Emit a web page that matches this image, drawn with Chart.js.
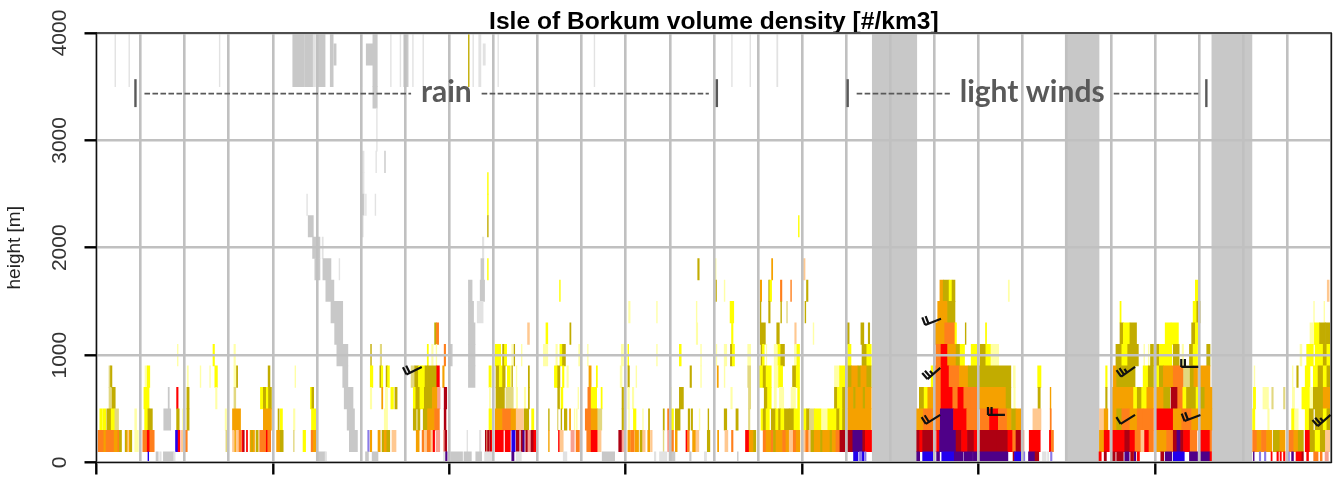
<!DOCTYPE html>
<html>
<head>
<meta charset="utf-8">
<title>Isle of Borkum volume density</title>
<script src="https://cdn.jsdelivr.net/npm/chart.js@4"></script>
<style>html,body{margin:0;padding:0;background:#fff}canvas{display:block}</style>
</head>
<body>
<canvas id="c" width="1344" height="478"></canvas>
<script>
// x = hours since start of the record, y = height [m]
// cells: [startHour, endHour, densityClass]
const titleText = 'Isle of Borkum volume density [#/km3]';
const yAxisLabel = 'height [m]';
const heightTicks = [0, 1000, 2000, 3000, 4000];
const noDataHours = [[105.55, 111.6], [131.8, 136.4], [151.75, 157.2]];

const band0 = [[7.0,7.1,9],[8.1,8.4,0],[8.6,8.8,11],[9.1,10.5,0],[10.5,10.7,11],[29.9,31.1,0],[31.1,31.3,11],[36.6,37,0],[37.5,38.3,0],[47.2,47.5,11],[47.5,47.7,8],[48.2,49.8,0],[50,51,0],[51.6,52.4,0],[52.8,53.9,11],[56.5,56.8,8],[57.1,57.8,11],[63.5,64,11],[68.8,70.5,0],[75.9,76.1,11],[76.6,77.6,11],[77.9,78.7,0],[80.7,80.9,0],[82.7,83,11],[87.2,87.3,0],
  [103,103.6,9],[103.8,104.1,14],[104.2,104.4,9],[104.5,104.7,14],[111.6,112,8],[112.4,113.8,9],[114.3,114.7,8],[115,116.7,9],[116.7,117.85,8],[118,119.2,8],[119.3,120.1,8],[120.2,124,8],[124.7,124.9,7],[124.9,125.8,9],[126,126.3,14],[126.8,127.7,8],[127.7,128.2,7],[128.7,129.2,11],[129.4,129.55,11],[129.8,130,14],
  [136.4,136.7,6],[137.1,137.4,7],[138.2,138.6,7],[138.8,139.7,7],[139.9,140.5,8],[140.7,141.1,7],[141.2,141.4,8],[141.6,141.9,6],[144.8,145.2,7],[145.4,146.3,8],[146.5,148,9],[148.7,149.8,8],[150.2,151.5,8],[151.5,151.7,6],
  [157.4,157.5,8],[158.2,158.4,14],[158.9,159.1,14],[159.8,159.95,6],[160.6,160.8,6],[161.03,161.2,6],[161.5,161.7,6],[162.1,162.3,14],[162.6,162.85,8],[163.2,164,6],[164,164.2,7],[164.65,164.9,6],[165.6,166.2,5],[166.5,166.75,5],[167.15,167.6,10]];

const band100 = [[0.2,1,5],[1,1.3,4],[1.3,1.8,5],[1.8,2.4,5],[2.4,2.9,4],[2.9,3.1,5],[3.1,3.4,3],[3.9,4.1,3],[4.1,4.2,4],[4.4,4.6,4],[4.6,4.8,3],[5.2,5.7,1],[6.3,6.9,5],[6.9,7.25,6],[7.25,7.85,5],[10.75,11.1,9],[11.1,11.35,6],[11.55,11.8,13],[12.05,12.35,5],[17.6,17.8,12],[18.5,18.7,13],[18.8,19,4],[19,19.4,13],[19.4,19.7,5],[19.8,20,6],[20,20.1,7],[20.4,20.55,6],[20.9,21.1,4],[21.1,21.3,3],[21.3,21.5,4],[21.7,22,3],[22.2,22.7,5],[22.7,23.1,5],[23.1,23.3,6],[23.3,23.7,5],[24.5,25,4],[25,25.4,3],[26.8,26.9,12],[28.1,28.45,2],[29.2,29.5,5],[29.5,29.9,4],
  [34.4,35.5,0],[36.9,37.1,14],[37.25,37.45,4],[38.3,38.6,4],[38.85,39.15,3],[39.15,39.5,4],[39.5,39.9,3],[40.2,40.75,13],[43.5,43.9,4],[44.3,44.6,5],[44.6,45,13],[45,45.5,5],[45.5,45.8,13],[45.8,46,6],[46.2,46.7,10],[47.2,47.4,10],[47.4,47.65,7],[50.4,50.5,11],[52.1,52.3,11],
  [52.9,53.1,7],[53.1,53.2,13],[53.2,53.4,7],[53.5,53.7,7],[53.7,53.9,6],[54.25,55.35,6],[55.6,56.3,6],[56.5,56.95,9],[57.1,57.5,7],[57.75,58,7],[58,58.2,8],[58.4,58.7,7],[58.7,59,10],[59.1,59.5,7],[59.5,59.8,6],[61.5,61.6,4],[62.85,63,6],[63.05,63.5,13],[64.55,65,10],[65.25,65.7,5],[66.7,67.3,5],[67.3,68.2,6],[68.2,68.65,13],[71.05,71.5,7],[71.5,71.7,10],[72.3,72.65,4],[72.7,73.15,5],[73.25,73.75,4],[73.95,74.3,3],[74.3,74.65,13],[75,75.3,4],[75.4,75.6,13],[77.1,77.2,12],[77.7,77.95,10],[78.1,78.5,5],[78.75,79,4],[80.2,80.4,6],[80.4,80.65,5],[81.1,81.55,4],[81.55,81.95,13],[83.1,83.45,3],[84.5,84.65,4],[85.5,85.9,13],[86.4,86.6,5],[88.3,88.8,6],[88.8,89.4,4],[89.4,89.7,3],
  [90.7,91.1,5],[91.1,91.8,4],[91.8,92.1,5],[92.1,92.45,3],[92.45,93.35,4],[93.35,93.8,5],[93.8,94.25,4],[94.25,94.8,13],[94.8,95.2,5],[95.2,95.7,4],[96.2,96.5,13],[96.5,96.9,5],[96.9,97.2,13],[97.2,97.65,3],[97.65,98.5,4],[98.5,98.8,3],[98.8,99.8,4],[99.8,100.1,3],[100.1,100.6,4],[100.6,101.15,5],[101.15,101.9,7],[102.2,102.9,7],[102.9,104.25,8],[104.25,104.6,7],[104.6,105.45,6],
  [111.6,112,7],[112,112.4,6],[112.4,113.8,7],[113.8,114.1,6],[114.3,114.7,6],[114.7,116.95,8],[116.95,117.7,7],[117.7,118.5,6],[118.5,119.4,7],[119.4,120.1,6],[120.2,122.5,7],[122.5,124,7],[124,124.65,6],[124.65,125.1,5],[125.1,125.8,7],[125.8,126.2,10],[126.9,127.8,6],[127.8,128.4,6],[129.65,129.9,6],[129.9,130.2,5],
  [136.45,137.1,4],[137.1,137.8,6],[138.15,139.9,6],[139.9,140.6,7],[140.6,141.3,6],[141.3,142.1,5],[142.1,142.6,13],[142.6,143.2,6],[143.2,143.8,5],[144.1,145.6,4],[145.6,146.5,5],[146.5,147,7],[147,147.5,8],[147.5,147.9,7],[147.9,148.8,6],[148.8,149.7,5],[149.9,151.5,6],[151.5,151.7,5],
  [157.3,157.9,5],[157.9,158.5,4],[158.5,159.2,5],[159.2,159.9,4],[160.1,161,3],[161,161.7,4],[162.2,162.9,5],[162.9,163.5,4],[163.5,164.2,3],[164.45,165.1,6],[165.1,165.8,3],[165.8,166.5,2],[166.5,167.2,3],[167.2,167.8,13]];

const band300 = [[0.45,0.8,2],[0.9,1.25,2],[1.4,2,3],[2,2.5,2],[2.5,3,12],[5.2,5.45,1],[6.55,7,2],[7,7.25,3],[7.25,7.6,3],[9.15,10.1,0],[10.9,11.25,3],[11.7,12,1],[12.3,12.6,3],[17.5,17.7,1],[18.5,19.6,4],[22.7,23.8,4],[24.7,24.85,3],[25,25.3,2],[26.8,27,1],[29.25,29.85,2],[34.1,35.1,0],[39.15,39.6,1],[43.1,43.5,3],[43.7,44,3],[44.45,45.05,3],[45.05,46,4],[46,46.65,5],[47.3,47.55,7],
  [53.4,53.75,2],[54.25,55.25,4],[55.25,56.4,5],[56.4,57.1,4],[57.1,58.1,13],[58.2,58.8,3],[59.2,59.5,2],[61.5,61.6,3],[62.7,62.8,12],[63.2,63.3,3],[63.65,64,3],[64.35,64.5,4],[65,65.1,1],[65.3,65.4,1],[66.5,67.3,5],[67.3,68.2,4],[68.2,68.75,12],[71.5,71.7,3],[72.4,72.5,1],[73.05,73.4,2],[74.3,74.4,1],[75.1,75.25,3],[77.1,77.25,3],[77.7,78,5],[78.2,78.5,2],[78.75,79.4,3],[80.5,80.7,3],[80.9,81.1,3],[82,82.1,1],[83.2,83.3,3],[85.4,85.75,3],[87,87.3,3],[88.7,88.9,12],
  [90.4,90.7,2],[90.7,91.1,3],[91.1,91.55,2],[91.8,92.4,3],[92.4,92.8,2],[92.8,93.1,3],[93.1,93.6,2],[93.6,94.25,3],[94.25,94.9,3],[94.9,95.65,2],[96.2,96.6,2],[96.6,97,3],[97,97.65,12],[97.65,98.6,2],[98.7,99.5,1],[99.5,100.25,2],[100.25,100.7,2],[100.7,101.1,3],[101.1,101.5,2],[101.5,102,3],[102.2,103.3,4],[103.3,104.3,4],[104.3,105.4,4],
  [111.6,112.5,4],[112.5,113.8,5],[113.8,114.1,4],[114.1,114.8,5],[114.8,116.6,8],[116.6,118.4,6],[118.4,120,5],[120.2,121.5,5],[121.5,122.7,6],[122.7,123.9,5],[123.9,124.5,4],[124.5,125.1,3],[125.1,125.8,4],[127.4,128.5,13],[129.75,129.9,5],
  [136.45,137.1,13],[137.1,137.6,4],[138.15,138.8,4],[138.8,139.5,3],[139.5,140.6,5],[140.6,141.6,4],[141.6,142.4,5],[142.4,143.8,5],[144.1,146.5,6],[146.5,147.65,4],[147.65,149,5],[149,150.15,4],[150.15,151.75,4],
  [157.3,157.6,2],[159.35,159.55,1],[162.6,162.95,2],[163.1,163.5,1],[164.45,165,2],[165,165.55,3],[165.8,166.9,3],[166.9,167.4,2],[167.4,167.8,3]];

const band500 = [[1.7,2,12],[2.1,2.55,3],[6.45,7.15,2],[9.75,9.9,0],[10.9,11.1,6],[12.3,12.6,3],[16.2,16.4,1],[18.7,18.95,12],[22.3,22.7,2],[22.7,23.1,3],[23.1,23.4,2],[23.4,23.8,3],[29.1,29.3,2],[29.3,29.55,3],[33.7,34.9,0],[37.25,37.45,1],[38.8,38.95,4],[39.3,39.6,1],[40.05,40.4,2],[40.6,40.9,3],[43.1,43.45,2],[43.45,44,3],[44,44.6,2],[44.6,45.7,3],[45.7,46.4,4],[46.4,46.75,10],[47.3,47.65,7],
  [53.45,53.6,1],[54.35,55.5,3],[55.7,56.7,12],[57.1,57.3,1],[58.2,58.4,1],[58.75,58.9,3],[62.75,63,3],[63.2,63.45,2],[65.5,65.6,1],[66.85,67.3,5],[67.3,68.05,2],[68.65,68.8,2],[71.5,71.7,3],[72.3,72.5,1],[72.9,73.1,1],[78.1,78.2,1],[79.3,79.85,3],[86.3,86.5,1],[88.7,89,12],
  [90.85,91.3,3],[91.3,91.8,2],[92.2,92.5,1],[92.9,93.5,1],[94.5,95.1,1],[95.4,95.65,2],[100.4,100.8,3],[100.8,101.1,2],[101.1,101.5,2],[101.5,101.9,3],[102.2,103,4],[103,103.3,3],[103.3,104.3,4],[104.3,104.6,3],[104.6,105.4,4],
  [111.95,112.6,3],[112.6,113.1,2],[113.1,113.8,4],[114.1,114.9,5],[114.9,116.5,6],[116.5,117.2,5],[117.2,118,6],[118,119,5],[119,120.1,5],[120.1,122,4],[122,123.75,4],[123.75,124.4,3],[124.8,125,1],[128.1,128.4,3],[129.75,129.85,4],
  [137.3,137.5,3],[138.15,141.1,4],[141.1,141.6,2],[141.6,142.2,3],[142.2,142.9,2],[142.9,143.8,4],[144.1,145.2,4],[145.2,146.05,3],[146.2,147.1,7],[147.1,147.8,5],[147.8,148.3,2],[148.3,148.8,3],[148.8,149.6,3],[149.6,150.1,2],[150.1,150.8,3],[150.8,151.75,4],
  [157.4,157.7,2],[158.7,159.45,1],[159.9,160.1,12],[161.5,161.7,12],[162.7,163,1],[164,165.1,2],[165.1,165.55,1],[165.55,166.9,3],[166.9,167.8,4]];

const band700 = [[1.7,1.9,12],[1.9,2.1,3],[6.6,6.9,1],[6.9,7.25,2],[12.35,12.5,1],[14.1,14.2,1],[15.4,15.5,1],[16.1,16.45,2],[18.7,18.95,1],[19.05,19.2,3],[23.35,23.6,3],[27,27.1,1],[33.5,34.2,0],[37.25,37.6,2],[38.55,38.75,3],[38.75,38.95,2],[39.4,39.6,3],[39.6,39.85,2],[42.8,43.3,12],[43.3,43.8,3],[43.8,44.3,2],[44.3,44.7,2],[44.7,45.05,3],[45.05,46.3,3],[46.3,46.65,6],[47.1,47.3,4],[50.6,51.5,0],
  [53.4,53.7,2],[54.35,54.8,3],[54.8,55.25,2],[55.25,55.6,3],[55.9,56.3,2],[56.5,56.6,3],[57.1,57.2,1],[58.75,58.9,3],[62.3,62.75,2],[62.75,63.05,3],[63.4,63.6,2],[64,64.2,1],[67,67.3,4],[68,68.15,2],[71.25,71.5,1],[72.3,72.5,3],[73.4,73.5,1],[80.75,80.95,3],[82.2,82.3,1],[84.45,84.6,4],[85.4,85.5,1],[88.6,89,12],
  [90.2,90.7,2],[90.7,91.1,3],[91.1,91.8,2],[92.2,92.8,1],[92.8,93.35,2],[94.7,95.2,3],[95.2,95.65,2],[100.4,101.1,1],[101.1,101.9,2],[102.2,102.75,3],[102.75,103.6,4],[103.6,104,3],[104,104.8,4],[104.8,105.4,3],
  [113.55,113.8,2],[114.1,114.9,5],[114.9,116,6],[116,117.4,5],[117.4,118.6,4],[118.6,119.9,3],[120.1,124.4,3],[124.75,125,1],[128.05,128.5,2],[137.3,137.5,2],
  [138.35,138.8,4],[138.8,141.3,3],[142.4,143.1,2],[143.1,143.8,3],[144.1,144.6,2],[144.6,145.15,3],[145.15,146.5,4],[146.5,147.9,5],[147.9,148.8,12],[148.8,149.3,3],[149.3,149.8,4],[150.15,151.5,4],
  [157.5,157.6,1],[162.7,162.8,1],[163.3,163.5,3],[164.45,165.1,2],[165.55,166.2,2],[166.2,166.9,3],[166.9,167.4,2],[167.4,167.8,3]];

const band900 = [[11,11.1,1],[15.85,16.05,2],[18.7,18.9,1],[32.7,34.2,0],[37.3,37.4,3],[38.6,38.8,12],[45,45.15,2],[45.6,45.8,1],[46.2,46.3,1],[47.3,47.5,5],[47.9,48.4,0],[50.6,51.5,0],
  [54.25,55,2],[55.25,55.5,3],[55.5,55.8,2],[56.5,56.6,1],[56.8,56.9,3],[57.8,57.9,1],[60.8,61.4,1],[62.5,62.7,1],[63.05,63.4,2],[63.4,63.8,3],[65.6,65.8,1],[66.8,66.9,1],[71.4,71.7,1],[72.3,72.4,2],[76.2,76.3,1],[79.3,79.55,2],[82.2,82.3,1],[84.3,84.4,1],[85.4,85.75,1],[86.25,86.5,3],[86.5,86.8,2],[88.6,89,1],
  [90.4,90.6,3],[90.6,90.85,2],[91.1,91.2,1],[92.2,92.6,1],[92.7,93.1,2],[93.1,93.6,3],[94.95,95.3,1],[95.3,95.65,2],[102.2,102.65,2],[104.15,104.8,3],[104.8,105.4,2],
  [114.2,114.9,5],[114.9,115.8,6],[115.8,116.95,4],[116.95,117.5,3],[117.5,118.1,2],[119,119.9,2],[120.2,121,3],[121,121.7,2],[121.7,122.75,1],
  [138.7,139.5,3],[139.5,140.3,2],[140.3,141.75,3],[142.5,142.6,1],[143.1,143.2,1],[143.4,143.8,3],[144.1,144.6,3],[144.6,145.15,2],[145.15,146.3,2],[146.5,147.3,3],[147.7,147.9,1],[148.7,149.2,3],[149.2,149.8,2],[151.05,151.5,3],
  [163.75,164,1],[164.65,165.55,2],[165.8,166.9,2],[166.9,167.4,3],[167.4,167.8,2]];

const band1100 = [[32.4,33.5,0],[46,46.25,3],[46.25,46.55,5],[50.6,51.5,0],[58.65,58.9,13],[61.15,61.4,2],[64.4,64.55,3],[81.6,81.8,1],[86.4,86.6,2],[90.3,91,3],[92.55,92.9,3],[95,95.2,13],[97.5,97.6,1],[102.15,102.4,3],[104,104.4,3],[105,105.2,3],
  [114.1,115.4,4],[115.4,116.8,5],[116.8,117,2],[118.2,118.3,3],[120.95,121.1,2],[139.25,139.7,3],[139.7,140.6,2],[140.6,141.5,3],[145.4,146.2,2],[146.2,147.2,2],[149,149.5,3],[149.5,149.9,2],[165.1,165.7,1],[165.7,166.4,2],[166.4,167.2,3],[167.2,167.9,3]];

const band1300 = [[31.9,33.5,0],[50.6,51.3,0],[51.8,52.6,11],[72.4,72.6,1],[76.2,76.3,1],[81.6,81.7,1],[86.2,86.7,2],[90.3,90.4,3],[91.45,91.65,3],[93.1,93.2,3],[93.9,94,12],[96.4,96.5,3],[114.45,115.8,4],[115.8,116.8,3],[139.25,139.4,2],[149.2,149.7,2],[149.7,150.15,3],[165.6,165.7,1],[167,167.1,1]];

const band1500 = [[31.2,32.3,0],[50.6,51.1,0],[52.2,52.8,0],[63,63.1,2],[84.25,84.35,3],[85.4,85.5,1],[90.3,90.5,4],[91.45,91.6,3],[91.6,91.85,2],[93.05,93.25,5],[94.45,94.55,5],[96.6,96.8,3],[114.75,115.2,4],[115.2,116,3],[116,116.4,2],[116.4,116.8,3],[124.05,124.2,1],[149.5,150,2],[167.45,167.7,13]];

const band1700 = [[29.7,30.4,0],[30.8,31.9,0],[33,33.1,11],[52.3,52.7,0],[53.2,53.3,2],[81.8,82,3],[84.2,84.3,1],[91.85,92,4],[96.2,96.4,13]];
const band1900 = [[29.4,30.4,0],[30.7,30.85,11],[52.5,52.7,11]];
const band2100 = [[28.8,29.5,0],[36.1,36.3,11],[53.2,53.3,3],[95.5,95.6,2]];
const band2300 = [[28.6,28.7,11],[36.1,36.4,0],[36.6,36.7,11],[37.9,38,11],[53.2,53.3,2]];
const band2500 = [[36.2,36.4,11],[53.2,53.3,2]];
const band2700 = [[36.2,36.4,11],[38,38.1,11],[39.2,39.3,0]];
const band2900 = [[38.1,38.2,11]];
const band3300 = [[37.6,38.2,0]];
const band3500 = [[2.5,2.6,11],[4.4,4.5,11],[16.7,16.8,11],[26.7,28.2,0],[28.3,29.4,0],[29.5,29.8,11],[30,31.1,0],[31.8,32.2,0],[36,36.1,11],[37.6,38.2,0],[40,40.1,11],[41.3,41.4,11],[41.8,42.4,0],[43,43.1,11],[44.4,44.5,11],[50.6,50.7,3],[51.2,51.3,11],[52,52.3,11],[54.6,54.7,11],[67.7,67.8,11],[86.4,86.5,11],[88.9,89,11],[92.55,92.7,11]];
const band3700 = [[32.3,32.6,0],[36.7,37.6,0],[52.6,52.9,11]];

const bands = [[0,100,band0],[100,300,band100],[300,500,band300],[500,700,band500],[700,900,band700],[900,1100,band900],[1100,1300,band1100],[1300,1500,band1300],[1500,1700,band1500],[1700,1900,band1700],[1900,2100,band1900],[2100,2300,band2100],[2300,2500,band2300],[2500,2700,band2500],[2700,2900,band2700],[2900,3300,band2900],[3300,3500,band3300],[3500,4000,band3500],[3700,3900,band3700]];

// wind barbs: [hour, height, staffAngleDeg, feathers]
const windBarbs = [[44.25,890,154,2],[114.9,1338,159,2],[114.8,881,139,3],[114.8,443,148,2],[123.6,443,180,2],[141.3,890,145,3],[141.3,443,148,1],[149.9,890,180,2],[150.2,443,159,2],[167.9,443,139,3]];

// annotated periods: [label, startHour, dashEndLeft, dashStartRight, endHour]
const periods = [['rain',5.3,42.8,52.4,84.4],['light winds',102.2,116.1,138.4,151]];
const periodLabelHours = [47.6,127.3];
const periodLineHeight = 3435;
const periodBarRange = [3310,3570];

const palette = ['#C8C8C8','#FFFFA6','#FFFF00','#C2AC00','#F5A100','#FF7F1C','#FF0000','#AE0012','#4F0088','#2200EE','#F8A090','#E2E2E2','#E2D880','#FFC890','#8A7AE8'];

const PX_PER_M = 429.5/4000;

const dataSets = bands.map(([bottom,top,cells]) => ({
  data: cells.map(c => ({x:[c[0],c[1]], y:(bottom+top)/2})),
  backgroundColor: cells.map(c => palette[c[2]]),
  barThickness: (top-bottom)*PX_PER_M,
  grouped:false, borderWidth:0
}));
dataSets.push({
  data: noDataHours.map(h => ({x:h, y:2000})),
  backgroundColor:'#C8C8C8',
  barThickness:4000*PX_PER_M,
  grouped:false, borderWidth:0
});

const overlay = {
  id:'overlay',
  afterDraw(chart){
    const {ctx,scales:{x,y},chartArea:a} = chart;
    ctx.save();
    // frame
    ctx.strokeStyle='#111'; ctx.lineWidth=1.3;
    ctx.strokeRect(a.left,a.top,a.right-a.left,a.bottom-a.top);
    // period annotations
    ctx.strokeStyle='#595959'; ctx.fillStyle='#595959';
    const ly=y.getPixelForValue(periodLineHeight);
    periods.forEach((p,i)=>{
      ctx.setLineDash([]); ctx.lineWidth=2.4;
      [p[1],p[4]].forEach(h=>{
        ctx.beginPath();
        ctx.moveTo(x.getPixelForValue(h),y.getPixelForValue(periodBarRange[0]));
        ctx.lineTo(x.getPixelForValue(h),y.getPixelForValue(periodBarRange[1]));
        ctx.stroke();
      });
      ctx.setLineDash([5.6,2.4]); ctx.lineWidth=1.6;
      ctx.beginPath();
      ctx.moveTo(x.getPixelForValue(p[1])+9,ly); ctx.lineTo(x.getPixelForValue(p[2]),ly);
      ctx.moveTo(x.getPixelForValue(p[3]),ly); ctx.lineTo(x.getPixelForValue(p[4])-8,ly);
      ctx.stroke();
      ctx.font='bold 30px Lato';
      ctx.textAlign='center'; ctx.textBaseline='middle';
      ctx.fillText(p[0],x.getPixelForValue(periodLabelHours[i]),ly-1);
    });
    ctx.setLineDash([]);
    // wind barbs
    ctx.strokeStyle='#111'; ctx.lineWidth=2.2; ctx.lineCap='butt';
    windBarbs.forEach(([h,m,deg,n])=>{
      const bx=x.getPixelForValue(h), by=y.getPixelForValue(m);
      const r=deg*Math.PI/180, ux=Math.cos(r), uy=Math.sin(r);
      const L=17;
      const px=-uy, py=ux;
      ctx.beginPath();
      ctx.moveTo(bx,by); ctx.lineTo(bx+ux*L,by+uy*L);
      for(let k=0;k<n;k++){
        const d=L-k*3.6, tx=bx+ux*d, ty=by+uy*d, f=(n===3&&k===2)?4.5:8;
        ctx.moveTo(tx,ty); ctx.lineTo(tx+px*f,ty+py*f);
      }
      ctx.stroke();
    });
    ctx.restore();
  }
};

new Chart(document.getElementById('c'),{
  type:'bar',
  data:{datasets:dataSets},
  plugins:[overlay],
  options:{
    indexAxis:'y',
    responsive:false,
    animation:false,
    layout:{padding:{left:0,right:12.7,top:0,bottom:0}},
    plugins:{
      legend:{display:false},
      tooltip:{enabled:false},
      title:{display:true,text:titleText,fullSize:false,color:'#000',
        font:{family:'"Liberation Sans"',size:24.6,weight:'bold',lineHeight:1},
        padding:{top:10,bottom:-1.6}}
    },
    scales:{
      x:{type:'linear',min:0,max:168,
        ticks:{stepSize:6,display:false,autoSkip:false},
        afterFit(s){s.height=15.5;},
        grid:{z:1,color:'#C0C0C0',lineWidth:2.6,tickLength:12,
          tickColor:c=>(c.tick&&c.tick.value%24===0&&c.tick.value<168)?'#000':'rgba(0,0,0,0)',
          tickWidth:2.4},
        border:{display:false}
      },
      y:{type:'linear',min:0,max:4000,offset:false,position:'left',
        afterFit(s){s.width=96.5;},
        afterBuildTicks(s){s.ticks=heightTicks.map(v=>({value:v}));},
        ticks:{minRotation:90,maxRotation:90,crossAlign:'center',padding:1,color:'#333',
          callback:v=>String(v),
          font:{family:'"Liberation Sans"',size:21}},
        title:{display:true,text:yAxisLabel,color:'#222',padding:{top:3,bottom:0},
          font:{family:'"Liberation Sans"',size:19}},
        grid:{z:1,offset:false,color:'#C0C0C0',lineWidth:2.6,tickLength:12,tickColor:'#000',tickWidth:2.4},
        border:{display:false}
      }
    }
  }
});
</script>
</body>
</html>
